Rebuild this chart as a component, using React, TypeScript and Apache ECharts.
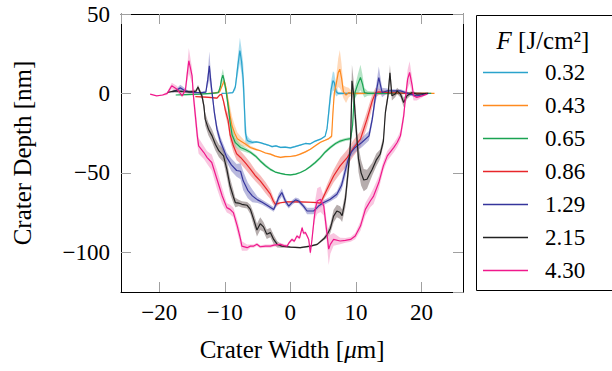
import React, { useEffect, useRef } from "react";
import * as echarts from "echarts";

// Fluence labels (legend) and colours
const fluences = ["0.32", "0.43", "0.65", "0.86", "1.29", "2.15", "4.30"];
const lineColors = ["#2aa3cc", "#ff8a1f", "#1aa352", "#e8262a", "#35359c", "#222222", "#f0188c"];
const bandColors = ["#74c6e2", "#ffc08a", "#84d2a0", "#f08a8a", "#8a8ac8", "#857676", "#f5a0cc"];

// Each point: [width µm, mean depth nm, std-dev nm]
const d032: number[][] = [
  [-10.5, 0, 0], [-9.5, 0.2, 0], [-8.8, 0.5, 0.5], [-8.4, 4, 2], [-8.0, 18, 6], [-7.7, 27, 8],
  [-7.45, 20, 8], [-7.2, 9, 10], [-7.0, -10, 12], [-6.85, -25, 8], [-6.6, -29.5, 3], [-6.3, -30.2, 2],
  [-5.8, -30.8, 1], [-5.2, -30.5, 0.5], [-4.6, -31.0, 0.5], [-4.0, -31.8, 0.5], [-3.4, -32.5, 0.5],
  [-2.8, -33.5, 0.5], [-2.2, -33.0, 0.5], [-1.5, -34.0, 0.5], [-0.8, -33.8, 0.5], [0, -34.3, 0.5],
  [0.7, -33.5, 0.5], [1.5, -32.5, 0.5], [2.3, -31.5, 0.5], [3.0, -31.8, 0.5], [3.8, -30.0, 0.5],
  [4.6, -28.8, 0.5], [5.3, -27.0, 0.5], [5.6, -22.0, 2], [5.9, -10, 5], [6.2, 2, 5], [6.5, 8, 6],
  [6.7, 7, 6], [7.0, 1, 3], [7.3, 0, 1], [9, 0, 0.5], [14, 0, 0], [20, 0, 0],
];
const d043: number[][] = [
  [-12.5, 0, 0], [-11.5, 0.3, 0], [-10.8, 1, 0.5], [-10.4, 5, 1], [-10.1, 8, 1.5], [-9.8, 3, 2],
  [-9.5, -6, 4], [-9.2, -14, 6], [-8.9, -20.5, 6], [-8.5, -25, 5], [-8.1, -28.5, 4], [-7.6, -30, 3],
  [-6.8, -32, 1.5], [-6.1, -34, 1], [-5.3, -35.2, 0.8], [-4.6, -36.1, 0.5], [-3.8, -37.5, 0.5],
  [-3.05, -38.2, 0.5], [-2.3, -39.5, 0.5], [-1.5, -40.3, 0.5], [-0.8, -39.8, 0.5], [0, -39.7, 0.5],
  [0.8, -39.2, 0.5], [1.5, -38.2, 0.5], [2.3, -36.8, 0.5], [3.05, -35.1, 0.5], [3.8, -33.0, 0.5],
  [4.6, -30.7, 0.5], [5.3, -29.5, 0.5], [5.8, -28.6, 0.5], [6.3, -27, 1], [6.5, -12, 3], [6.7, 0, 3],
  [7.0, 6, 5], [7.3, 13, 9], [7.55, 15.3, 12], [7.8, 10, 9], [8.1, 1, 4], [8.5, -1, 5], [8.9, 0.5, 3],
  [9.5, 0, 1], [12, 0, 0.5], [18, 0, 0], [22, 0, 0],
];
const d065: number[][] = [
  [-17.5, -1, 0], [-16, -0.8, 0.5], [-14, -0.5, 0.5], [-12, 0, 0.5], [-11.0, 0.5, 0.5], [-10.7, 4, 2],
  [-10.5, 9, 3], [-10.3, 11.5, 4], [-10.1, 8, 3], [-9.8, 1, 2], [-9.5, -8, 4], [-9.2, -18, 5],
  [-8.9, -26, 5], [-8.4, -31, 3], [-7.6, -34, 2], [-6.8, -35.5, 1.5], [-6.1, -37, 1], [-5.3, -39.5, 1],
  [-4.6, -42.5, 1], [-3.8, -45.5, 1], [-3.05, -47.8, 0.8], [-2.3, -49.5, 0.5], [-1.53, -50.3, 0.5],
  [-0.8, -51, 0.5], [0, -51.3, 0.5], [0.8, -50.8, 0.5], [1.53, -49.8, 0.5], [2.3, -48.2, 0.5],
  [3.05, -46, 0.8], [3.8, -43.5, 1], [4.58, -40.4, 1], [5.3, -37, 1], [6.1, -34, 1], [6.9, -31.5, 1],
  [7.6, -30, 1], [8.4, -29, 1], [9.2, -28.5, 1], [9.5, -20, 3], [9.7, -5, 4], [9.9, 1, 4],
  [10.3, 6, 6], [10.7, 10, 8], [11.0, 6, 6], [11.3, 0.5, 3], [11.8, 0, 1.5], [13, 0, 1],
  [16, 0, 0.5], [21.5, 0, 0],
];
const d086: number[][] = [
  [-14.5, -2, 0], [-13, -2.3, 0.5], [-12, -2.6, 0.5], [-11.2, -3, 0.5], [-10.8, -1, 0.5],
  [-10.5, -0.5, 0.5], [-10.2, -5, 1.5], [-9.9, -11, 3], [-9.5, -17, 4], [-9.2, -26, 4], [-8.7, -33, 4],
  [-8.2, -38, 4], [-7.6, -40.3, 4], [-6.8, -44, 4], [-6.1, -47.7, 4], [-5.3, -52, 3.5],
  [-4.6, -55, 3.5], [-3.8, -59.3, 3.5], [-3.05, -63.4, 3], [-2.6, -67.7, 2.5], [-2.3, -69.8, 2],
  [-1.5, -68.8, 0.5], [-0.5, -68.3, 0.5], [1.5, -68.3, 0.5], [3.0, -68.5, 0.5], [4.0, -68.7, 0.5],
  [4.6, -69, 1], [5.6, -60.3, 3], [6.6, -52, 4], [7.6, -45.6, 5], [8.7, -40.3, 5], [9.7, -34, 5],
  [10.7, -28.8, 5], [11.7, -16.2, 5], [12.5, -4.7, 4], [13.0, 0.5, 3], [13.5, 1, 2], [15, 0.5, 1],
  [18, 0, 0.5], [21, 0, 0],
];
const d129: number[][] = [
  [-18, 1, 0], [-17.4, 2, 1], [-16.8, 3.5, 2], [-16.2, 2, 1.5], [-15.5, 1, 0.5], [-14.5, 0.5, 0.5],
  [-13.5, 0.5, 0.5], [-12.9, 0.8, 1], [-12.6, 9, 4], [-12.37, 17.4, 9], [-12.15, 8, 6],
  [-11.95, 0.5, 3], [-11.6, -12, 3], [-11.2, -22.5, 3], [-10.7, -29.9, 3], [-10.2, -35.1, 3],
  [-9.7, -40.4, 3], [-9.0, -45, 4], [-8.2, -48.5, 4], [-7.6, -49, 5], [-7.2, -55, 6], [-6.5, -61, 5],
  [-5.8, -64.5, 4], [-5.0, -67, 2], [-4.3, -68.5, 1.5], [-3.5, -70.5, 1.5], [-2.55, -73, 1.5],
  [-2.1, -69, 2], [-1.8, -65.6, 2.5], [-1.3, -62.4, 2.5], [-0.76, -67.7, 2], [-0.25, -70.9, 1.5],
  [0.25, -68.7, 1.5], [0.8, -67, 1.5], [1.27, -67.7, 1.5], [2.0, -70.9, 1.5], [2.55, -74, 2],
  [3.56, -74, 2], [4.3, -70.9, 1.5], [5.1, -68.7, 1.5], [6.1, -66.6, 1.5], [7.1, -63.5, 2],
  [7.8, -58, 3], [8.3, -50, 4], [8.8, -42, 4], [9.3, -37, 3], [9.9, -34, 3], [10.9, -30.9, 3],
  [12.0, -26.7, 3], [12.5, -16.2, 3], [13.0, -1.5, 4], [13.5, 10, 7], [14.0, 0.6, 3],
  [14.8, 1.6, 1.5], [15.8, 1.6, 1], [16.8, 1.6, 1], [18.3, -0.4, 1], [19.3, -1.5, 1], [21.1, 0, 0],
];
const d215: number[][] = [
  [-18.8, 0.6, 0], [-17.6, 1.6, 1], [-16.5, 1.2, 1], [-15.3, 1, 1], [-14.4, 1.5, 1], [-14.1, 4, 1.5],
  [-13.8, 1, 1.5], [-13.5, -1.5, 2], [-13.2, -7.8, 3], [-13.0, -16.2, 4], [-12.5, -22.5, 4],
  [-11.95, -26.7, 4], [-11.45, -32, 4], [-10.9, -36.2, 4], [-10.2, -39.3, 4], [-9.7, -47.7, 5],
  [-9.2, -58.3, 5], [-8.7, -65, 4], [-8.4, -68.7, 3], [-7.9, -69, 2], [-7.4, -69.8, 2],
  [-6.6, -70.4, 2], [-6.1, -73, 3], [-5.6, -79.3, 4], [-5.1, -86, 4], [-4.6, -82, 4], [-4.1, -84, 3],
  [-3.6, -88.7, 3], [-3.05, -87.6, 3], [-2.55, -91.9, 3], [-2.0, -95, 2], [-1.3, -96.1, 1],
  [0, -96.7, 0.5], [1.5, -97.1, 0.5], [3.05, -96.1, 0.5], [4.1, -95, 0.5], [5.1, -91.5, 1],
  [5.6, -89, 2], [6.1, -85, 3], [6.6, -77.2, 4], [7.1, -74, 4], [7.6, -75, 4], [7.9, -77, 4],
  [8.4, -66.6, 5], [8.9, -45.6, 6], [9.2, -30, 8], [9.4, 8, 10], [9.7, -1.5, 8], [9.9, -14, 8],
  [10.4, -41.4, 8], [10.8, -50, 8], [11.2, -54.5, 7], [11.7, -54, 6], [12.5, -47.7, 4],
  [13.1, -42, 4], [13.7, -38.3, 3], [14.2, -30, 3], [14.5, -12, 3], [14.9, -1.5, 3], [15.2, 13, 5],
  [15.5, -1.5, 3], [16, -0.4, 2], [16.3, 1.6, 2], [16.8, -0.4, 2], [17.3, -5.7, 3], [17.8, -1.5, 2],
  [18.6, 0.6, 1], [19.3, -0.4, 1], [21, 0, 0],
];
const d430: number[][] = [
  [-21.4, -0.4, 0], [-20.4, -1.5, 0], [-19.5, -1, 0.5], [-18.8, 0, 1], [-18.1, 4.8, 2],
  [-17.3, 2.7, 2], [-16.5, -1.5, 1], [-16.0, 2.7, 2], [-15.75, 12, 5], [-15.5, 20.6, 8],
  [-15.2, 15, 6], [-15.0, 11, 5], [-14.8, -1.5, 5], [-14.5, -14, 6], [-14.2, -26.7, 6],
  [-14.0, -33, 5], [-13.2, -37.2, 4], [-12.7, -40.4, 4], [-12.0, -43.5, 5], [-11.2, -54, 6],
  [-10.4, -64.6, 5], [-9.7, -71.9, 3], [-9.2, -73, 3], [-8.7, -75, 3], [-8.1, -83.5, 4],
  [-7.6, -91.9, 4], [-7.4, -96.1, 3], [-6.6, -97.1, 2], [-6.1, -96.1, 1], [-5.6, -96.1, 1],
  [-5.1, -95, 1], [-4.6, -96.5, 1], [-3.8, -96.1, 1], [-3.05, -96.1, 1], [-2.5, -95.5, 1],
  [-1.5, -95, 1], [-1.0, -95.8, 1], [-0.5, -96.1, 1], [-0.2, -94, 1], [0.25, -91.9, 1],
  [0.6, -93, 1], [1.0, -89.8, 1], [1.4, -91, 1], [1.8, -84.5, 1], [2.0, -88, 1], [2.3, -87.6, 1],
  [2.6, -90, 1], [2.8, -91.9, 1], [3.05, -100.3, 2], [3.3, -91.9, 2], [3.6, -80, 4], [3.8, -73, 6],
  [4.1, -67.7, 8], [4.6, -66.6, 8], [5.1, -70.9, 6], [5.5, -85, 6], [5.85, -98, 10], [6.1, -95, 6],
  [6.6, -91.9, 4], [7.6, -92.9, 2], [8.4, -92.5, 1.5], [9.2, -91.9, 1.5], [9.9, -89.8, 2],
  [10.7, -83.5, 3], [11.45, -73, 4], [12.2, -67.7, 4], [12.7, -64.6, 5], [13.5, -56.1, 4],
  [14.2, -45.6, 3], [14.8, -39.3, 3], [15.8, -34, 3], [16.3, -30.9, 3], [16.8, -26.7, 3],
  [17.3, -14.1, 4], [17.6, -1.5, 4], [17.9, 9, 6], [18.2, 13.2, 7], [18.6, 4.8, 5], [18.8, -1.5, 3],
  [19.3, -2.5, 2], [20.1, -1.5, 1], [20.9, -0.4, 0],
];
const seriesData = [d032, d043, d065, d086, d129, d215, d430];

const FONT = "Liberation Serif, serif";
const fmt = (v: number) => (v < 0 ? "\u2212" + Math.abs(v) : String(v));

export default function App() {
  const ref = useRef<HTMLDivElement>(null);
  useEffect(() => {
    if (!ref.current) return;
    const chart = echarts.init(ref.current, undefined, { renderer: "svg" });
    const series: any[] = [];
    seriesData.forEach((data, i) => {
      series.push({
        type: "custom",
        name: "band" + i,
        coordinateSystem: "cartesian2d",
        silent: true,
        clip: true,
        data: data.map((p) => [p[0], p[1] - p[2], p[1] + p[2]]),
        encode: { x: 0, y: [1, 2] },
        renderItem: (params: any, api: any) => {
          if (params.dataIndex !== 0) return null;
          const upper = data.map((p) => api.coord([p[0], p[1] + p[2]]));
          const lower = data.map((p) => api.coord([p[0], p[1] - p[2]])).reverse();
          return {
            type: "polygon",
            shape: { points: upper.concat(lower) },
            style: { fill: bandColors[i], opacity: 0.6 },
            silent: true,
          };
        },
        z: 2,
      });
      series.push({
        type: "line",
        name: fluences[i],
        data: data.map((p) => [p[0], p[1]]),
        showSymbol: false,
        symbol: "none",
        clip: true,
        color: lineColors[i],
        lineStyle: { color: lineColors[i], width: 1.2 },
        z: 3,
      });
    });

    const tickStyle = { show: true, inside: true, length: 10, lineStyle: { color: "#a0a0a0", width: 1 } };
    const lineAxis = { show: true, onZero: false, lineStyle: { color: "#000", width: 1 } };
    const labelStyle = { fontFamily: FONT, fontSize: 23, color: "#000" };

    chart.setOption({
      animation: false,
      backgroundColor: "#fff",
      grid: { left: 121, top: 14, right: 149, bottom: 79, containLabel: false },
      xAxis: [
        {
          type: "value", min: -25.85, max: 26.35, splitNumber: 5, position: "bottom",
          axisLine: lineAxis, axisTick: tickStyle, splitLine: { show: false },
          axisLabel: { ...labelStyle, margin: 9, formatter: fmt, showMinLabel: false, showMaxLabel: false },
          name: "Crater Width [{i|\u03bc}m]", nameLocation: "middle", nameGap: 45,
          nameTextStyle: { fontFamily: FONT, fontSize: 25, color: "#000", rich: { i: { fontFamily: FONT, fontSize: 25, fontStyle: "italic" } } },
        },
        {
          type: "value", min: -25.85, max: 26.35, splitNumber: 5, position: "top",
          axisLine: lineAxis, axisTick: tickStyle, splitLine: { show: false }, axisLabel: { show: false },
        },
      ],
      yAxis: [
        {
          type: "value", min: -125, max: 50, splitNumber: 4, position: "left",
          axisLine: lineAxis, axisTick: tickStyle, splitLine: { show: false },
          axisLabel: { ...labelStyle, margin: 11, formatter: fmt, showMinLabel: false, showMaxLabel: true },
          name: "Crater Depth [nm]", nameLocation: "middle", nameGap: 86,
          nameTextStyle: { fontFamily: FONT, fontSize: 25, color: "#000" },
        },
        {
          type: "value", min: -125, max: 50, splitNumber: 4, position: "right",
          axisLine: lineAxis, axisTick: tickStyle, splitLine: { show: false }, axisLabel: { show: false },
        },
      ],
      legend: {
        data: fluences,
        orient: "vertical",
        left: 483,
        top: 61,
        icon: "rect",
        itemWidth: 45,
        itemHeight: 1.5,
        itemGap: 10,
        padding: 0,
        textStyle: { fontFamily: FONT, fontSize: 23, lineHeight: 22, color: "#000", padding: [0, 0, 0, 12] },
        selectedMode: false,
      },
      graphic: [
        {
          type: "rect", left: 474, top: 13,
          shape: { x: 0, y: 0, width: 137, height: 275 },
          style: { fill: "none", stroke: "#000", lineWidth: 1 },
          silent: true,
        },
        {
          type: "text", x: 543, y: 40,
          style: {
            text: "{i|F} [J/cm\u00b2]",
            fontFamily: FONT, fontSize: 25, fill: "#000",
            align: "center", verticalAlign: "middle",
            rich: { i: { fontFamily: FONT, fontSize: 25, fontStyle: "italic", fill: "#000" } },
          },
        },
      ],
      series,
    });
    return () => chart.dispose();
  }, []);
  return (
    <div
      ref={ref}
      style={{ position: "fixed", left: 0, top: 0, width: 612, height: 371, background: "#fff" }}
    />
  );
}
